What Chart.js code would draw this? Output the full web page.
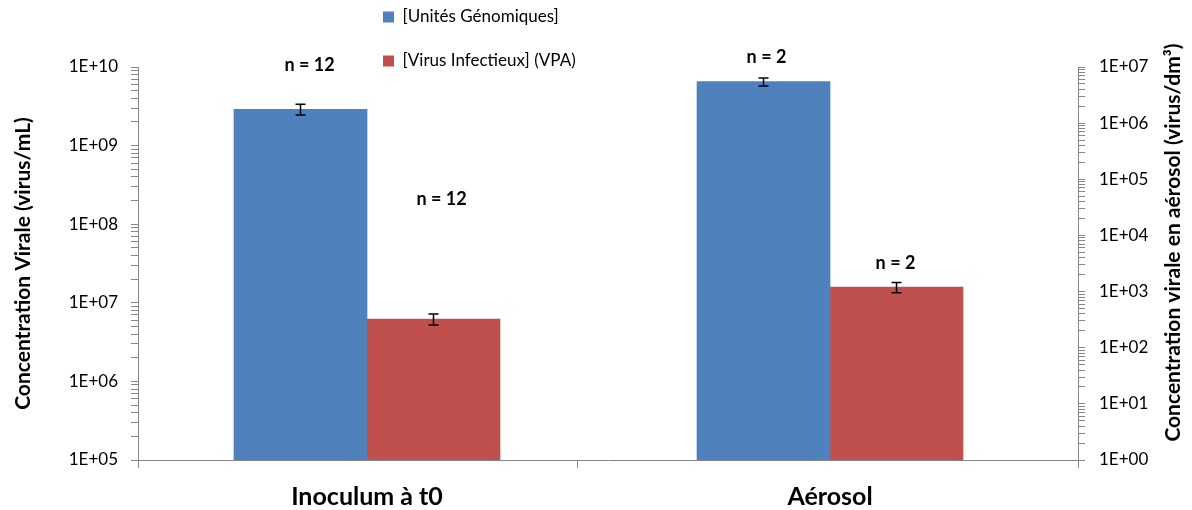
<!DOCTYPE html>
<html>
<head>
<meta charset="utf-8">
<script src="https://cdn.jsdelivr.net/npm/chart.js@4.4.0/dist/chart.umd.min.js"></script>
<style>
  html, body { margin: 0; padding: 0; background: #fff; }
</style>
</head>
<body>
<canvas id="myChart" width="1192" height="510"></canvas>
<script>
// Data
var categories = ["Inoculum à t0", "Aérosol"];
var seriesNames = ["[Unités Génomiques]", "[Virus Infectieux] (VPA)"];
var genomicUnits = [2.9e9, 5.5e6];
var genomicErr = [0.45e9, 0.9e6];
var infectiousVirus = [6.2e6, 1.2e3];
var infectiousErr = [1.0e6, 0.25e3];
var nGenomic = [12, 2];
var nInfectious = [12, 2];
var leftTitle = "Concentration Virale (virus/mL)";
var rightTitle = "Concentration virale en aérosol (virus/dm³)";

// Styles
var seriesColors = ["#4F81BD", "#C0504D"];
var axisGray = "#868686";
var xMin = -0.4946, xMax = 1.5356, xDivider = 0.4557;
// label offsets from bar top, per dataset (cat * 2 + series)
var labelOffsets = [
    { dx: 9, dy: 44 }, { dx: 8, dy: 120 },
    { dx: 3, dy: 24 }, { dx: -1, dy: 24 }
];

Chart.defaults.font.family = "Lato";
Chart.defaults.color = "#000";

function logTicks(minExp, maxExp) {
    var ticks = [];
    for (var e = minExp; e < maxExp; e++) {
        for (var m = 1; m <= 9; m++) ticks.push({ value: m * Math.pow(10, e) });
    }
    ticks.push({ value: Math.pow(10, maxExp) });
    return ticks;
}

function expLabel(v) {
    var e = Math.round(Math.log10(v));
    if (Math.abs(Math.log10(v) - e) > 1e-9) return "";
    return "1E+" + String(e).padStart(2, "0");
}

// one dataset per (category, series): Inoculum on left axis, Aérosol on right axis
var datasets = [];
categories.forEach(function (cat, ci) {
    [genomicUnits, infectiousVirus].forEach(function (values, si) {
        datasets.push({
            label: seriesNames[si],
            yAxisID: ci === 0 ? "y" : "y1",
            data: categories.map(function (c, i) {
                return { x: i, y: i === ci ? values[i] : null };
            }),
            backgroundColor: seriesColors[si],
            borderWidth: 0,
            barThickness: 133,
            skipNull: true,
            stack: "s" + ci + si
        });
    });
});

var errs = [genomicErr, infectiousErr];
var counts = [nGenomic, nInfectious];

// Error bars and n labels
var barExtras = {
    id: "barExtras",
    afterDatasetsDraw: function (chart) {
        var ctx = chart.ctx;
        chart.data.datasets.forEach(function (ds, di) {
            var ci = Math.floor(di / 2), si = di % 2;
            var yScale = chart.scales[ds.yAxisID];
            var bar = chart.getDatasetMeta(di).data[ci];
            var v = ds.data[ci].y;
            var e = errs[si][ci];
            var yTop = yScale.getPixelForValue(v + e);
            var yBot = yScale.getPixelForValue(v - e);
            ctx.save();
            ctx.strokeStyle = "#000";
            ctx.lineWidth = 1.5;
            ctx.beginPath();
            ctx.moveTo(bar.x, yTop); ctx.lineTo(bar.x, yBot);
            ctx.moveTo(bar.x - 5, yTop); ctx.lineTo(bar.x + 5, yTop);
            ctx.moveTo(bar.x - 5, yBot); ctx.lineTo(bar.x + 5, yBot);
            ctx.stroke();
            ctx.fillStyle = "#000";
            ctx.font = "bold 18px Lato";
            ctx.textAlign = "center";
            ctx.textBaseline = "middle";
            var off = labelOffsets[di];
            ctx.fillText("n = " + counts[si][ci], bar.x + off.dx, bar.y - off.dy);
            ctx.restore();
        });
    }
};

// Right axis title reads bottom to top like the left one
var rightAxisTitle = {
    id: "rightAxisTitle",
    afterDraw: function (chart) {
        var s = chart.scales.y1;
        var ctx = chart.ctx;
        ctx.save();
        ctx.translate(s.right - 19, (chart.chartArea.top + chart.chartArea.bottom) / 2 - 21);
        ctx.rotate(-Math.PI / 2);
        ctx.font = "bold 21px Lato";
        ctx.fillStyle = "#000";
        ctx.textAlign = "center";
        ctx.textBaseline = "middle";
        ctx.fillText(rightTitle, 0, 0);
        ctx.restore();
    }
};

// Place the vertical legend near the top centre
var legendPlace = {
    id: "legendPlace",
    afterLayout: function (chart) {
        chart.legend.left = 356;
        chart.legend.top = -18.5;
    }
};

var chart = new Chart(document.getElementById("myChart").getContext("2d"), {
    type: "bar",
    data: { datasets: datasets },
    plugins: [barExtras, rightAxisTitle, legendPlace],
    options: {
        responsive: false,
        animation: false,
        devicePixelRatio: 1,
        layout: { padding: { top: 67, left: 0, right: 0, bottom: 0 } },
        plugins: {
            tooltip: { enabled: false },
            legend: {
                position: "chartArea",
                fullSize: false,
                align: "start",
                labels: {
                    boxWidth: 11,
                    boxHeight: 11,
                    padding: 27,
                    color: "#000",
                    font: { size: 17 },
                    filter: function (item) { return item.datasetIndex < 2; }
                }
            }
        },
        scales: {
            x: {
                type: "linear",
                bounds: "data",
                min: xMin,
                max: xMax,
                offset: false,
                afterBuildTicks: function (axis) {
                    axis.ticks = [xMin, 0, xDivider, 1, xMax].map(function (v) { return { value: v }; });
                },
                afterFit: function (axis) { axis.height = 50; },
                grid: {
                    offset: false,
                    drawOnChartArea: false,
                    tickLength: 8,
                    color: axisGray,
                    tickColor: function (ctx) {
                        return ctx.tick && Number.isInteger(ctx.tick.value) ? "rgba(0,0,0,0)" : axisGray;
                    }
                },
                border: { color: axisGray },
                ticks: {
                    autoSkip: false,
                    maxRotation: 0,
                    padding: 14,
                    color: "#000",
                    font: { size: 25, weight: "bold" },
                    callback: function (v) { return categories[v] !== undefined ? categories[v] : ""; }
                }
            },
            y: {
                type: "logarithmic",
                position: "left",
                min: 1e5,
                max: 1e10,
                afterBuildTicks: function (axis) { axis.ticks = logTicks(5, 10); },
                afterFit: function (axis) { axis.width = 138; },
                grid: { drawOnChartArea: false, tickLength: 7, color: axisGray },
                border: { color: axisGray },
                ticks: {
                    autoSkip: false,
                    padding: 13,
                    color: "#000",
                    font: { size: 17 },
                    callback: expLabel
                },
                title: {
                    display: true,
                    text: leftTitle,
                    color: "#000",
                    padding: { top: 11, bottom: 0 },
                    font: { size: 21, weight: "bold" }
                }
            },
            y1: {
                type: "logarithmic",
                position: "right",
                min: 1,
                max: 1e7,
                afterBuildTicks: function (axis) { axis.ticks = logTicks(0, 7); },
                afterFit: function (axis) { axis.width = 114; },
                grid: { drawOnChartArea: false, tickLength: 7, color: axisGray },
                border: { color: axisGray },
                ticks: {
                    autoSkip: false,
                    padding: 14,
                    color: "#000",
                    font: { size: 17 },
                    callback: expLabel
                }
            }
        }
    }
});
</script>
</body>
</html>
